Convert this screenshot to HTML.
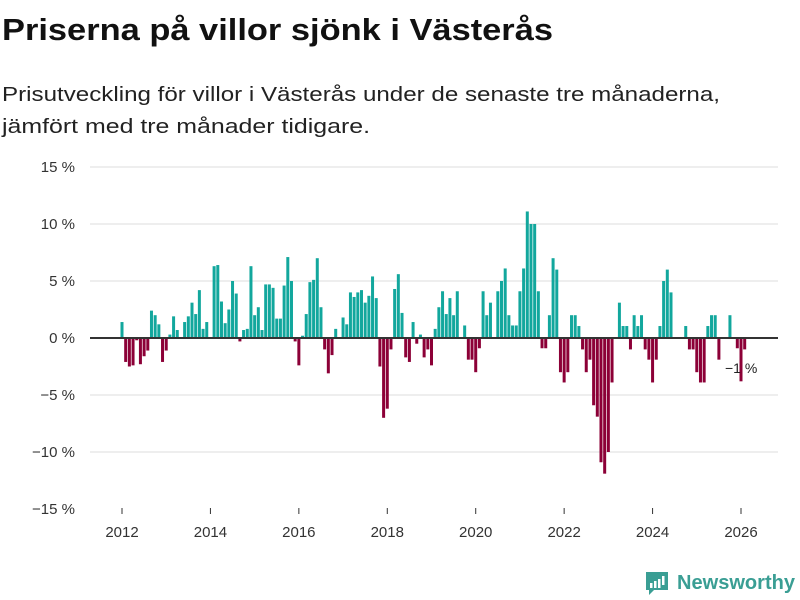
<!DOCTYPE html>
<html><head><meta charset="utf-8"><style>
body{margin:0;background:#fff;}
svg{display:block;font-family:"Liberation Sans",sans-serif;}
</style></head><body>
<svg id="chart" width="800" height="600" viewBox="0 0 800 600" xmlns="http://www.w3.org/2000/svg">
<text x="2" y="40" font-size="31" font-weight="bold" fill="#111" textLength="551" lengthAdjust="spacingAndGlyphs">Priserna på villor sjönk i Västerås</text>
<text x="2" y="101" font-size="20" fill="#222" textLength="718" lengthAdjust="spacingAndGlyphs">Prisutveckling för villor i Västerås under de senaste tre månaderna,</text>
<text x="2" y="133" font-size="20" fill="#222" textLength="368" lengthAdjust="spacingAndGlyphs">jämfört med tre månader tidigare.</text>
<g id="grid"></g>
<g id="bars"></g>
<g id="xaxis"></g>
<text x="725" y="373" font-size="14" fill="#222">−1 %</text>
<g>
<path d="M646 572 h22 v18 h-14 l-5 5 v-5 h-3 z" fill="#3a9e94"/>
<rect x="650" y="583" width="2.5" height="5" fill="#fff"/><rect x="654" y="581" width="2.5" height="7" fill="#fff"/><rect x="658" y="579" width="2.5" height="9" fill="#fff"/><rect x="662" y="576" width="2.5" height="9" fill="#fff"/>
<text x="677" y="589" font-size="20" font-weight="bold" fill="#3a9e94" textLength="118" lengthAdjust="spacingAndGlyphs">Newsworthy</text>
</g>
</svg>
<script>
const values = [1.4,-2.1,-2.5,-2.4,-0.2,-2.3,-1.6,-1.1,2.4,2.0,1.2,-2.1,
-1.1,0.3,1.9,0.7,0,1.4,1.9,3.1,2.1,4.2,0.8,1.4,
0,6.3,6.4,3.2,1.3,2.5,5.0,3.9,-0.3,0.7,0.8,6.3,
2.0,2.7,0.7,4.7,4.7,4.4,1.7,1.7,4.6,7.1,5.0,-0.3,
-2.4,0.2,2.1,4.9,5.1,7.0,2.7,-1.0,-3.1,-1.5,0.8,0,
1.8,1.2,4.0,3.6,4.0,4.2,3.1,3.7,5.4,3.5,-2.5,-7.0,
-6.2,-1.0,4.3,5.6,2.2,-1.7,-2.1,1.4,-0.5,0.3,-1.7,-1.0,
-2.4,0.8,2.7,4.1,2.1,3.5,2.0,4.1,0,1.1,-1.9,-1.9,
-3.0,-0.9,4.1,2.0,3.1,0,4.1,5.0,6.1,2.0,1.1,1.1,
4.1,6.1,11.1,10,10,4.1,-0.9,-0.9,2.0,7.0,6.0,-3.0,
-3.9,-3.0,2.0,2.0,1.05,-1.0,-3.0,-1.9,-5.9,-6.9,-10.9,-11.9,
-10,-3.9,0,3.1,1.05,1.05,-1.0,2.0,1.05,2.0,-1.0,-1.9,
-3.9,-1.9,1.05,5.0,6.0,4.0,0,0,0,1.05,-1.0,-1.0,
-3.0,-3.9,-3.9,1.05,2.0,2.0,-1.9,0,0,2.0,0,-0.9,
-3.8,-1.0];
const startYear = 2012;
const yTicks = [15,10,5,0,-5,-10,-15];
const yTickLabels = ["15 %","10 %","5 %","0 %","−5 %","−10 %","−15 %"];
const xTicks = [2012,2014,2016,2018,2020,2022,2024,2026];

const NS="http://www.w3.org/2000/svg";
const y = v => 338 - v*11.4;
const x = monthIndex => 122 + monthIndex*(619/168);
const xYear = yr => x((yr-startYear)*12);

const grid=document.getElementById('grid');
yTicks.forEach((t,i)=>{
  if(t!==-15){
    const l=document.createElementNS(NS,'line');
    
    
    l.setAttribute('x1',90);l.setAttribute('x2',778);
    l.setAttribute('y1',y(t));l.setAttribute('y2',y(t));
    l.setAttribute('stroke','#dddddd');l.setAttribute('stroke-width',1);
    grid.appendChild(l);
  }
  const tx=document.createElementNS(NS,'text');
  
  
  tx.setAttribute('x',75);tx.setAttribute('y',y(t)+5);
  tx.setAttribute('text-anchor','end');tx.setAttribute('font-size','15');tx.setAttribute('fill','#333');
  tx.textContent=yTickLabels[i];
  grid.appendChild(tx);
});
const bars=document.getElementById('bars');
values.forEach((v,i)=>{
  if(v===0) return;
  const r=document.createElementNS(NS,'rect');
  
  
  const top=v>0?y(v):y(0);
  r.setAttribute('x',x(i)-1.5);r.setAttribute('width',3);
  r.setAttribute('y',top);r.setAttribute('height',Math.abs(y(v)-y(0)));
  r.setAttribute('fill',v>0?'#12a79d':'#8c0037');
  bars.appendChild(r);
});
const zl=document.createElementNS(NS,'line');


zl.setAttribute('x1',90);zl.setAttribute('x2',778);zl.setAttribute('y1',y(0));zl.setAttribute('y2',y(0));
zl.setAttribute('stroke','#333');zl.setAttribute('stroke-width',2);
bars.appendChild(zl);
const xa=document.getElementById('xaxis');
xTicks.forEach(yr=>{
  const l=document.createElementNS(NS,'line');
  
  
  l.setAttribute('x1',xYear(yr));l.setAttribute('x2',xYear(yr));l.setAttribute('y1',508);l.setAttribute('y2',514);
  l.setAttribute('stroke','#333');
  xa.appendChild(l);
  const t=document.createElementNS(NS,'text');
  
  
  t.setAttribute('x',xYear(yr));t.setAttribute('y',537);t.setAttribute('text-anchor','middle');
  t.setAttribute('font-size','15');t.setAttribute('fill','#333');
  t.textContent=yr;
  xa.appendChild(t);
});
</script>
</body></html>
